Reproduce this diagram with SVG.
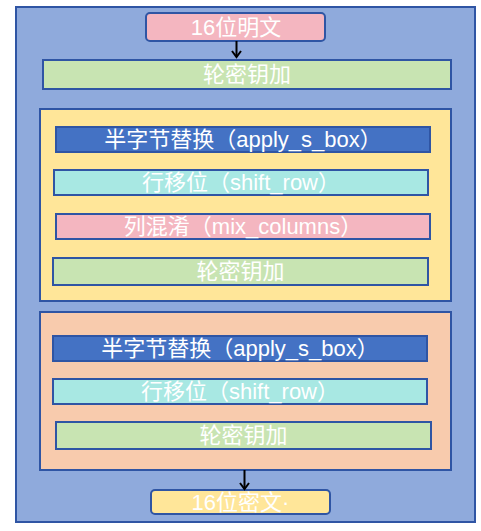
<svg xmlns="http://www.w3.org/2000/svg" width="481" height="531" viewBox="0 0 481 531">
<defs>
<style>
.bx{stroke:#2F55A4;stroke-width:2}
.t{font-family:"Liberation Sans","Noto Sans CJK SC",sans-serif;font-size:22px;fill:#ffffff;text-anchor:middle;dominant-baseline:central}
.pink{fill:#F4B6C0}.green{fill:#C8E4B2}.yellow{fill:#FFE699}.blue{fill:#4472C4}.cyan{fill:#A8E8E3}.orange{fill:#F8CBAD}
.ar{stroke:#000;stroke-width:2;fill:none}
</style>
</defs>
<rect width="481" height="531" fill="#ffffff"/>
<g id="outer"><rect class="bx" x="16" y="7" width="459" height="515" fill="#8FAADC"/></g>
<g id="plain"><rect class="bx pink" x="146" y="13" width="179" height="28" rx="4"/><text class="t" x="236" y="27">16位明文</text></g>
<g id="addkey0"><rect class="bx green" x="43" y="60" width="408" height="29"/><text class="t" x="247" y="74.5">轮密钥加</text></g>
<g id="round"><rect class="bx yellow" x="40" y="109" width="411" height="192"/></g>
<g id="sbox1"><rect class="bx blue" x="56" y="127" width="374" height="25"/><text class="t" x="243" y="139.5">半字节替换（apply_s_box）</text></g>
<g id="shift1"><rect class="bx cyan" x="54" y="170" width="374" height="25"/><text class="t" x="241" y="182.5">行移位（shift_row）</text></g>
<g id="mix1"><rect class="bx pink" x="56" y="214" width="374" height="25"/><text class="t" x="243" y="226.5">列混淆（mix_columns）</text></g>
<g id="addkey1"><rect class="bx green" x="53" y="258" width="375" height="27"/><text class="t" x="240.5" y="271.5">轮密钥加</text></g>
<g id="final"><rect class="bx orange" x="40" y="312" width="411" height="158"/></g>
<g id="sbox2"><rect class="bx blue" x="53" y="336" width="374" height="25"/><text class="t" x="240" y="348.5">半字节替换（apply_s_box）</text></g>
<g id="shift2"><rect class="bx cyan" x="53" y="379" width="374" height="25"/><text class="t" x="240" y="391.5">行移位（shift_row）</text></g>
<g id="addkey2"><rect class="bx green" x="56" y="422" width="375" height="27"/><text class="t" x="243.5" y="435.5">轮密钥加</text></g>
<g id="cipher"><rect class="bx yellow" x="151" y="490" width="179" height="24" rx="4"/><text class="t" x="240.5" y="502">16位密文·</text></g>
<g id="connectors">
<line class="ar" x1="236.5" y1="41" x2="236.5" y2="57"/><polyline class="ar" points="232,51 236.5,57 241,51"/>
<line class="ar" x1="244.5" y1="470" x2="244.5" y2="489"/><polyline class="ar" points="240,483 244.5,489 249,483"/>
</g>
</svg>
